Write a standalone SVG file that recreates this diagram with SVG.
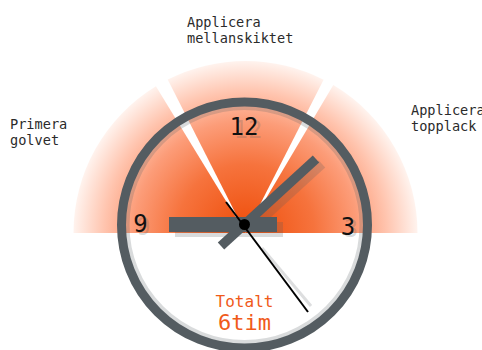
<svg xmlns="http://www.w3.org/2000/svg" width="482" height="350" viewBox="0 0 482 350">
  <defs>
    <radialGradient id="fanGrad" gradientUnits="userSpaceOnUse" cx="245.5" cy="233" r="172">
      <stop offset="0" stop-color="#ee4c08"/>
      <stop offset="0.4" stop-color="#f6733d"/>
      <stop offset="0.65" stop-color="#fc9c78"/>
      <stop offset="0.82" stop-color="#ffc4ae"/>
      <stop offset="1" stop-color="#fff3ee"/>
    </radialGradient>
    <style>
      .sector { fill: url(#fanGrad); }
      .label { font-family: "DejaVu Sans Mono", "Liberation Mono", monospace; font-size: 13.6px; fill: #2b2b2b; }
      .num { font-family: "DejaVu Sans Mono", "Liberation Mono", monospace; font-size: 24px; text-anchor: middle; fill: #111; }
      .numShadow { font-family: "DejaVu Sans Mono", "Liberation Mono", monospace; font-size: 24px; text-anchor: middle; fill: #545c61; fill-opacity: 0.22; }
      .hand { fill: #545c61; }
      .handShadow { fill: #545c61; fill-opacity: 0.22; }
      .total { font-family: "DejaVu Sans Mono", "Liberation Mono", monospace; fill: #f05a1a; text-anchor: middle; }
    </style>
  </defs>

  <g id="fan">
    <path id="sector-primera" class="sector" d="M245.5,233 L155.9,86.2 A172,172 0 0 0 73.5,233 Z"/>
    <path id="sector-mellanskikt" class="sector" d="M245.5,233 L323.6,79.7 A172,172 0 0 0 167.7,79.6 Z"/>
    <path id="sector-topplack" class="sector" d="M245.5,233 L417.5,233 A172,172 0 0 0 333.3,85.1 Z"/>
  </g>

  <g id="labels">
    <g id="label-primera">
      <text class="label" x="10" y="129">Primera</text>
      <text class="label" x="10" y="145">golvet</text>
    </g>
    <g id="label-mellanskikt">
      <text class="label" x="187" y="27">Applicera</text>
      <text class="label" x="187" y="42.5">mellanskiktet</text>
    </g>
    <g id="label-topplack">
      <text class="label" x="411" y="115">Applicera</text>
      <text class="label" x="411" y="131">topplack</text>
    </g>
  </g>

  <g id="clock">
    <circle cx="244.5" cy="225" r="117" fill="none" stroke="#545c61" stroke-opacity="0.22" stroke-width="4"/>
    <g id="numerals">
      <text class="numShadow" x="248" y="138">12</text>
      <text class="num" x="244" y="135">12</text>
      <text class="numShadow" x="143.5" y="235">9</text>
      <text class="num" x="140.5" y="232">9</text>
      <text class="numShadow" x="351" y="237">3</text>
      <text class="num" x="348" y="235">3</text>
    </g>
    <g id="hand-shadows">
      <rect class="handShadow" x="175" y="222" width="108" height="15"/>
      <line x1="252" y1="228" x2="322" y2="164" stroke="#545c61" stroke-opacity="0.22" stroke-width="9.5"/>
      <line x1="262" y1="248" x2="311" y2="306" stroke="#545c61" stroke-opacity="0.2" stroke-width="3"/>
    </g>
    <g id="hands">
      <rect id="hour-hand" class="hand" x="169" y="217" width="108" height="15"/>
      <line id="minute-hand" x1="221" y1="246" x2="316" y2="159" stroke="#545c61" stroke-width="9.5"/>
      <line id="second-hand" x1="226" y1="202" x2="308" y2="312" stroke="#000" stroke-width="2"/>
      <circle id="center-dot" cx="244.5" cy="224.5" r="5.5" fill="#000"/>
    </g>
    <circle id="ring" cx="244.5" cy="225" r="123" fill="none" stroke="#545c61" stroke-width="9"/>
    <g id="total">
      <text class="total" x="244.5" y="307" font-size="16">Totalt</text>
      <text class="total" x="244.5" y="329.5" font-size="22">6tim</text>
    </g>
  </g>
</svg>
